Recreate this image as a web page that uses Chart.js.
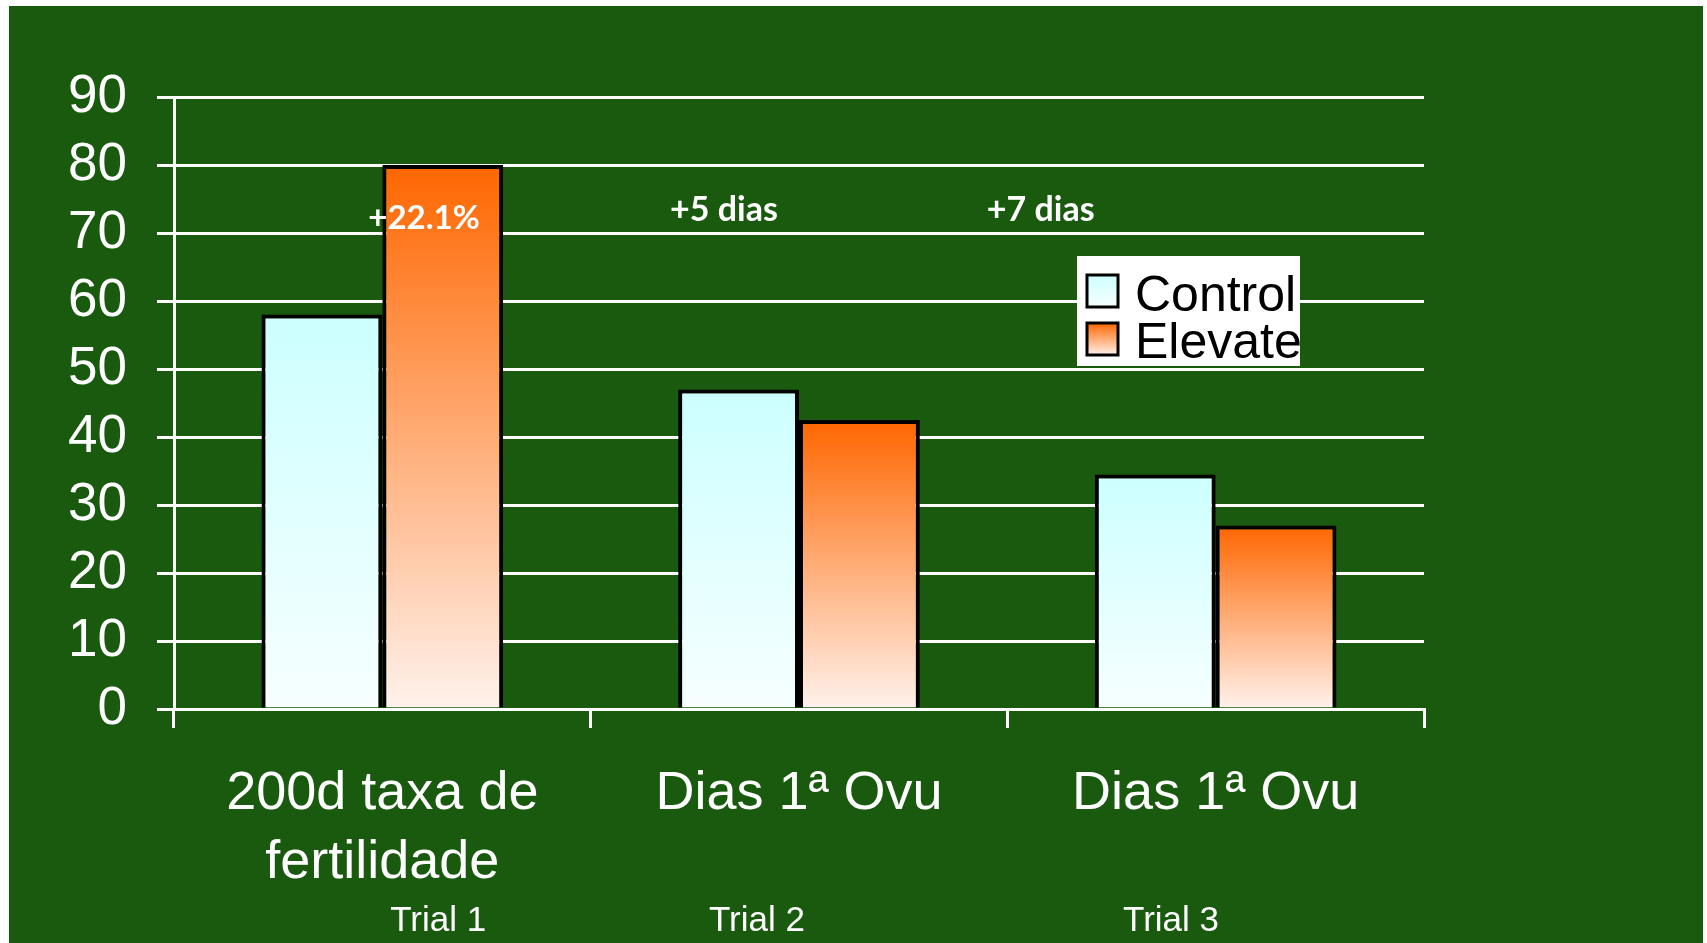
<!DOCTYPE html>
<html>
<head>
<meta charset="utf-8">
<script src="https://cdn.jsdelivr.net/npm/chart.js@4.4.1/dist/chart.umd.min.js"></script>
<style>
  html, body { margin: 0; background: #fff; width: 1707px; height: 943px; overflow: hidden; }
  #wrap { position: absolute; left: 9px; top: 6px; width: 1694px; height: 937px; background: #195a0e; }
</style>
</head>
<body>
<div id="wrap"><canvas id="c"></canvas></div>
<script>
const categories = [['200d taxa de', 'fertilidade'], 'Dias 1ª Ovu', 'Dias 1ª Ovu'];
const seriesNames = ['Control', 'Elevate'];
const controlValues = [58, 47, 34.5];
const elevateValues = [80, 42.5, 27];
const yTickLabels = ['0', '10', '20', '30', '40', '50', '60', '70', '80', '90'];
const notes = ['+22.1%', '+5 dias', '+7 dias'];
const trials = ['Trial 1', 'Trial 2', 'Trial 3'];

const FONT = "'Liberation Sans', Arial, sans-serif";
const CTRL = ['#ccffff', '#f7ffff'];
const ELEV = ['#ff6600', '#fff2ec'];

// per-bar vertical gradient, top colour at the bar's value, light at zero
function barGrad(cols) {
  return c => {
    const ch = c.chart;
    if (!ch.chartArea || c.raw == null) return cols[0];
    const y = ch.scales.y;
    const g = ch.ctx.createLinearGradient(0, y.getPixelForValue(c.raw), 0, y.getPixelForValue(0));
    g.addColorStop(0, cols[0]);
    g.addColorStop(1, cols[1]);
    return g;
  };
}

// notes over the bars, trial captions under the axis, legend box
const extras = {
  id: 'extras',
  afterDatasetsDraw(chart) {
    const { ctx, scales: { x, y } } = chart;
    const noteX = [0.1, 0.82, 1.58];
    const noteY = [70.6, 71.8, 71.8];
    ctx.save();
    ctx.fillStyle = '#fff';
    ctx.textAlign = 'center';
    ctx.textBaseline = 'alphabetic';
    notes.forEach((t, i) => {
      ctx.font = (i === 0 ? 'bold 33px' : 'bold 34px') + " Lato, 'Open Sans', sans-serif";
      ctx.fillText(t, x.getPixelForValue(noteX[i]), y.getPixelForValue(noteY[i]));
    });
    ctx.restore();
  },
  afterDraw(chart) {
    const { ctx, scales: { x } } = chart;
    ctx.save();
    // trial captions
    const trialX = [0.134, 0.899, 1.893];
    ctx.fillStyle = '#fff';
    ctx.font = '35px ' + FONT;
    ctx.textAlign = 'center';
    ctx.textBaseline = 'alphabetic';
    trials.forEach((t, i) => ctx.fillText(t, x.getPixelForValue(trialX[i]), 925));

    // legend
    const lx = 1068, ly = 250;
    ctx.fillStyle = '#fff';
    ctx.fillRect(lx, ly, 223, 110);
    [CTRL, ELEV].forEach((cols, i) => {
      const sy = ly + 19 + i * 48;
      const g = ctx.createLinearGradient(0, sy, 0, sy + 32);
      g.addColorStop(0, cols[0]);
      g.addColorStop(1, cols[1]);
      ctx.fillStyle = g;
      ctx.fillRect(lx + 10, sy, 31, 32);
      ctx.lineWidth = 3;
      ctx.strokeStyle = '#000';
      ctx.strokeRect(lx + 10, sy, 31, 32);
      ctx.fillStyle = '#000';
      ctx.font = '50px ' + FONT;
      ctx.textAlign = 'left';
      ctx.fillText(seriesNames[i], lx + 58, ly + 55 + i * 47);
    });
    ctx.restore();
  }
};

new Chart(document.getElementById('c'), {
  type: 'bar',
  data: {
    labels: categories,
    datasets: [
      { label: seriesNames[0], data: controlValues, backgroundColor: barGrad(CTRL) },
      { label: seriesNames[1], data: elevateValues, backgroundColor: barGrad(ELEV) }
    ]
  },
  options: {
    responsive: true,
    maintainAspectRatio: false,
    devicePixelRatio: 1,
    animation: false,
    layout: { padding: { top: 91, right: 279, left: 0, bottom: 0 } },
    datasets: {
      bar: { categoryPercentage: 0.58, barPercentage: 1, borderColor: '#000', borderWidth: 4 }
    },
    plugins: { legend: { display: false }, tooltip: { enabled: false } },
    scales: {
      x: {
        afterFit: s => { s.height = 234; },
        grid: { offset: true, drawOnChartArea: false, drawTicks: true, tickLength: 19, color: '#fff', lineWidth: 3 },
        border: { color: '#fff', width: 3 },
        ticks: {
          color: '#fff', padding: 32, maxRotation: 0, autoSkip: false,
          font: { family: FONT, size: 54, lineHeight: 1.27 }
        }
      },
      y: {
        min: 0, max: 90,
        afterFit: s => { s.width = 165; },
        grid: { color: '#fff', lineWidth: 3, tickLength: 17 },
        border: { color: '#fff', width: 3 },
        ticks: {
          stepSize: 10, color: '#fff', padding: 30,
          font: { family: FONT, size: 53 },
          callback: (v, i) => yTickLabels[i]
        }
      }
    }
  },
  plugins: [extras]
});
</script>
</body>
</html>
